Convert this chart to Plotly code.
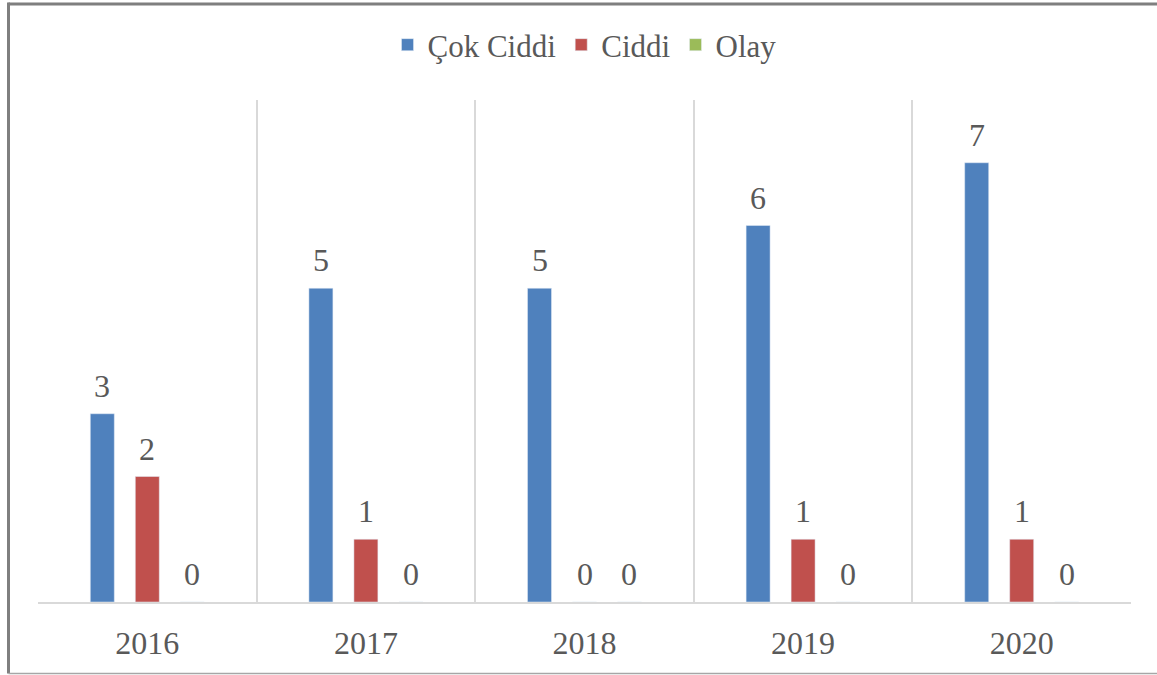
import plotly.graph_objects as go

years = ["2016", "2017", "2018", "2019", "2020"]
series_names = ["Çok Ciddi", "Ciddi", "Olay"]
cok_ciddi = [3, 5, 5, 6, 7]
ciddi = [2, 1, 0, 1, 1]
olay = [0, 0, 0, 0, 0]
colors = ["#4F81BD", "#C0504D", "#9BBB59"]

W, H = 1157, 675
ML, MR, MT, MB = 38, 26, 100, 73
FONT = "Liberation Serif, Times New Roman, serif"
GRAY = "#595959"
BARGAP, GROUPGAP = 0.3825, 0.467

pw = W - ML - MR
ph = H - MT - MB
slot = pw / len(years) * (1 - BARGAP) / len(series_names)

fig = go.Figure()
all_vals = [cok_ciddi, ciddi, olay]
for i, (name, vals, col) in enumerate(zip(series_names, all_vals, colors)):
    fig.add_trace(go.Bar(x=years, y=vals, name=name, marker_color=col))
    for j, v in enumerate(vals):
        # x given as category index (numeric-looking strings would be read as indices)
        fig.add_annotation(x=j, y=v, text=str(v), showarrow=False,
                           xanchor="center", yanchor="bottom",
                           xshift=(i - 1) * slot, yshift=8,
                           font=dict(family=FONT, size=32, color=GRAY))

def px2x(p):
    return (p - ML) / pw
def py2y(p):
    return (H - MB - p) / ph

frame = dict(xref="paper", yref="paper", layer="below", type="line")
fig.add_shape(**frame, x0=px2x(8.5), x1=px2x(W + 5), y0=py2y(4), y1=py2y(4),
              line=dict(color="#7f7f7f", width=3))
fig.add_shape(**frame, x0=px2x(8.5), x1=px2x(8.5), y0=py2y(2.5), y1=py2y(673.5),
              line=dict(color="#7f7f7f", width=3))
fig.add_shape(**frame, x0=px2x(8.5), x1=px2x(W + 5), y0=py2y(673.5), y1=py2y(673.5),
              line=dict(color="#a6a6a6", width=1.5))

fig.update_layout(
    width=W, height=H,
    margin=dict(l=ML, r=MR, t=MT, b=MB, autoexpand=False),
    paper_bgcolor="white", plot_bgcolor="white",
    barmode="group", bargap=BARGAP, bargroupgap=GROUPGAP,
    font=dict(family=FONT, color=GRAY),
    showlegend=True,
    legend=dict(orientation="h", x=0.5, xanchor="center", y=py2y(45), yanchor="middle",
                font=dict(family=FONT, size=31, color=GRAY),
                itemwidth=30, tracegroupgap=0, itemclick=False),
    xaxis=dict(type="category", categoryorder="array", categoryarray=years,
               range=[-0.5, len(years) - 0.5],
               showgrid=True, gridcolor="#d9d9d9", gridwidth=1.5, tickson="boundaries",
               ticks="", showline=True, linecolor="#d9d9d9", linewidth=1.5,
               tickfont=dict(family=FONT, size=32, color=GRAY), ticklabelstandoff=12,
               tickangle=0, automargin=False, zeroline=False, mirror=False),
    yaxis=dict(range=[0, 8], showgrid=False, showticklabels=False, zeroline=False,
               showline=False, ticks="", automargin=False),
)

fig.write_html("out.html", config={"displayModeBar": False},
               post_script="document.body.style.margin='0';")
